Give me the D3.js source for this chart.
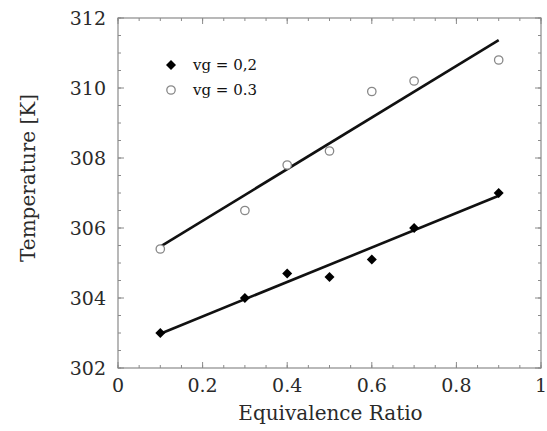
<!DOCTYPE html>
<html>
<head>
<meta charset="utf-8">
<script src="https://cdn.jsdelivr.net/npm/d3@7"></script>
<style>
  html, body { margin: 0; padding: 0; background: #fff; }
  svg { display: block; }
</style>
</head>
<body>
<div id="chart"></div>
<script>
// ----- Data -----
const ratios     = [0.1, 0.3, 0.4, 0.5, 0.6, 0.7, 0.9];
const tempVg02   = [303.0, 304.0, 304.7, 304.6, 305.1, 306.0, 307.0];
const tempVg03   = [305.4, 306.5, 307.8, 308.2, 309.9, 310.2, 310.8];
const fitX       = [0.1, 0.9];
const fitVg02    = [302.98, 306.92];
const fitVg03    = [305.47, 311.37];
const xTicks     = [0, 0.2, 0.4, 0.6, 0.8, 1];
const yTicks     = [302, 304, 306, 308, 310, 312];
const seriesNames = ["vg = 0,2", "vg = 0.3"];

// ----- Layout -----
const width  = 547;
const height = 431;
const margin = { top: 18, right: 6, bottom: 63, left: 118 };
const innerWidth  = width - margin.left - margin.right;
const innerHeight = height - margin.top - margin.bottom;

const svg = d3.select("#chart")
  .append("svg")
  .attr("width", width)
  .attr("height", height);

const g = svg.append("g")
  .attr("transform", `translate(${margin.left},${margin.top})`);

const x = d3.scaleLinear().domain([0, 1]).range([0, innerWidth]);
const y = d3.scaleLinear().domain([302, 312]).range([innerHeight, 0]);

const frameColor = "#8a8a8a";
const textColor  = "#2a2a2a";
const serif      = "'DejaVu Serif', 'Liberation Serif', serif";

// minor ticks
const xMinor = d3.range(0, 1.0001, 0.05);
const yMinor = d3.range(302, 312.0001, 0.5);

// inward ticks on all four sides
function tickMarks(values, isX, major) {
  const len = major ? 6 : 3;
  values.forEach(v => {
    if (isX) {
      const px = x(v);
      g.append("line").attr("x1", px).attr("x2", px)
        .attr("y1", innerHeight).attr("y2", innerHeight - len)
        .attr("stroke", frameColor).attr("stroke-width", 1);
      g.append("line").attr("x1", px).attr("x2", px)
        .attr("y1", 0).attr("y2", len)
        .attr("stroke", frameColor).attr("stroke-width", 1);
    } else {
      const py = y(v);
      g.append("line").attr("x1", 0).attr("x2", len)
        .attr("y1", py).attr("y2", py)
        .attr("stroke", frameColor).attr("stroke-width", 1);
      g.append("line").attr("x1", innerWidth).attr("x2", innerWidth - len)
        .attr("y1", py).attr("y2", py)
        .attr("stroke", frameColor).attr("stroke-width", 1);
    }
  });
}
tickMarks(xMinor, true, false);
tickMarks(xTicks, true, true);
tickMarks(yMinor, false, false);
tickMarks(yTicks, false, true);

// frame
g.append("rect")
  .attr("x", 0).attr("y", 0)
  .attr("width", innerWidth).attr("height", innerHeight)
  .attr("fill", "none")
  .attr("stroke", frameColor)
  .attr("stroke-width", 1.2);

// tick labels
g.selectAll(".xlab")
  .data(xTicks)
  .enter()
  .append("text")
  .attr("class", "xlab")
  .attr("x", d => x(d))
  .attr("y", innerHeight + 24)
  .attr("text-anchor", "middle")
  .attr("font-family", serif)
  .attr("font-size", 19)
  .attr("fill", textColor)
  .text(d => d3.format("")(d));

g.selectAll(".ylab")
  .data(yTicks)
  .enter()
  .append("text")
  .attr("class", "ylab")
  .attr("x", -12)
  .attr("y", d => y(d) + 7)
  .attr("text-anchor", "end")
  .attr("font-family", serif)
  .attr("font-size", 19)
  .attr("fill", textColor)
  .text(d => d);

// axis titles
g.append("text")
  .attr("x", innerWidth / 2 + 1)
  .attr("y", innerHeight + 52)
  .attr("text-anchor", "middle")
  .attr("font-family", serif)
  .attr("font-size", 20)
  .attr("fill", textColor)
  .text("Equivalence Ratio");

g.append("text")
  .attr("transform", `translate(${-83},${innerHeight / 2 - 15}) rotate(-90)`)
  .attr("text-anchor", "middle")
  .attr("font-family", serif)
  .attr("font-size", 20)
  .attr("fill", textColor)
  .text("Temperature [K]");

// fit lines
const line = d3.line().x(d => x(d[0])).y(d => y(d[1]));
[fitVg02, fitVg03].forEach(fit => {
  g.append("path")
    .datum(fitX.map((v, i) => [v, fit[i]]))
    .attr("d", line)
    .attr("fill", "none")
    .attr("stroke", "#111")
    .attr("stroke-width", 2.6);
});

// markers: square turned 45deg gives an even diamond
const diamond = d3.symbol().type(d3.symbolSquare).size(50);

g.selectAll(".pt02")
  .data(ratios.map((r, i) => [r, tempVg02[i]]))
  .enter()
  .append("path")
  .attr("class", "pt02")
  .attr("transform", d => `translate(${x(d[0])},${y(d[1])}) rotate(45)`)
  .attr("d", diamond)
  .attr("fill", "#000");

g.selectAll(".pt03")
  .data(ratios.map((r, i) => [r, tempVg03[i]]))
  .enter()
  .append("circle")
  .attr("class", "pt03")
  .attr("cx", d => x(d[0]))
  .attr("cy", d => y(d[1]))
  .attr("r", 4.2)
  .attr("fill", "#fff")
  .attr("stroke", "#888")
  .attr("stroke-width", 1.3);

// legend
const legend = g.append("g").attr("transform", "translate(53,47)");

legend.append("path")
  .attr("transform", "rotate(45)")
  .attr("d", diamond)
  .attr("fill", "#000");
legend.append("circle")
  .attr("cx", 0).attr("cy", 25)
  .attr("r", 4.2)
  .attr("fill", "#fff")
  .attr("stroke", "#888")
  .attr("stroke-width", 1.3);

legend.selectAll(".legtext")
  .data(seriesNames)
  .enter()
  .append("text")
  .attr("class", "legtext")
  .attr("x", 22)
  .attr("y", (d, i) => i * 25 + 5)
  .attr("font-family", serif)
  .attr("font-size", 15)
  .attr("fill", "#111")
  .text(d => d);
</script>
</body>
</html>
